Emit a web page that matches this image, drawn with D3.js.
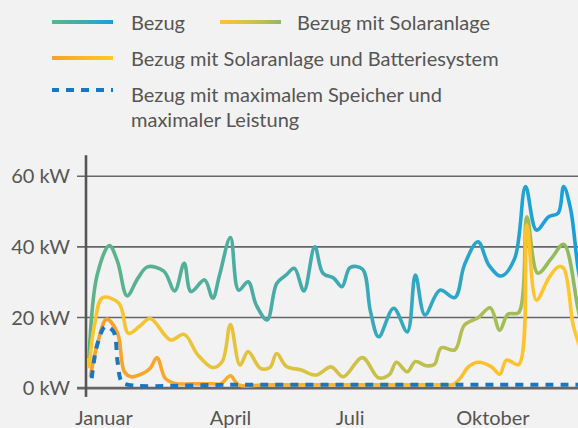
<!DOCTYPE html>
<html>
<head>
<meta charset="utf-8">
<script src="https://cdn.jsdelivr.net/npm/d3@7"></script>
<style>
  html, body { margin: 0; padding: 0; background: #f2f2f2; }
  svg { display: block; font-family: Lato, "Open Sans", sans-serif; }
  text { fill: #555; }
</style>
</head>
<body>
<div id="chart"></div>
<script>
// x values are days of the year, y values in kW
const bezug = [[0, 8.4], [6, 31.9], [15, 40.2], [21, 35.7], [28, 26], [36, 31], [43, 34.2], [55, 33], [63, 27.4],
  [70, 35.2], [75, 27.2], [85, 30.5], [91, 25.3], [96, 31.9], [104, 42.5], [110, 27.6], [117, 30], [123, 23.4],
  [131, 19.2], [138, 29.5], [145, 31.9], [151, 33.8], [158, 27.4], [166, 39.9], [172, 32.4], [180, 31], [186, 28.6],
  [192, 34], [201, 33.6], [207, 21.5], [213, 14.4], [224, 22.5], [234, 15.8], [240, 31.9], [247, 20.6], [258, 27.6],
  [269, 25.5], [276, 34.7], [286, 41.3], [294, 34.7], [303, 31.6], [313, 36.6], [321, 56.9], [329, 44.6],
  [338, 48.4], [345, 49.4], [349, 56.9], [354, 50.8], [360, 32.8], [365, 24]];

const solar = [[0, 5.5], [4, 17.7], [10, 25.5], [22, 23.9], [29, 15.4], [37, 17.3], [45, 19.6], [60, 13.5], [70, 15.1],
  [80, 9.3], [91, 5.7], [98, 7.4], [104, 17.9], [111, 6.4], [117, 10.2], [126, 5.5], [133, 5.7], [138, 9.7],
  [145, 6.1], [156, 5], [167, 3.6], [178, 5.9], [187, 3.1], [201, 8.5], [213, 2.8], [221, 3.8], [226, 7.2],
  [234, 4.5], [240, 7.4], [248, 6.2], [254, 6.6], [259, 11.3], [269, 10.7], [276, 17.7], [286, 19.8], [295, 22.6],
  [302, 16.3], [308, 20.8], [316, 21.3], [322, 48.4], [330, 32.4], [340, 36.6], [349, 40.6], [360, 21.5], [365, 14]];

const batterie = [[1, 3.1], [6, 12.1], [13, 19.4], [21, 15.4], [26, 4.5], [31, 3.1], [40, 4.1], [45, 5.5], [50, 8.5],
  [56, 2.7], [63, 1.2], [75, 1.1], [90, 1.1], [97, 1.1], [104, 3.4], [110, 0.8], [130, 0.8], [200, 0.8], [260, 0.8],
  [268, 0.9], [273, 2.7], [279, 5.9], [286, 7.2], [296, 5.9], [302, 3.8], [307, 7.8], [316, 6.6], [322, 46],
  [329, 24.8], [338, 31], [345, 34.2], [349, 33.8], [356, 17.7], [360, 12.6], [365, 8]];

const speicher = [[2, 2.7], [6, 12.1], [12, 17.3], [18, 15.9], [21, 7.4], [24, 1.7], [29, 0.8], [100, 0.8],
  [200, 0.8], [300, 0.8], [365, 0.8]];

const monate = ['Januar', 'April', 'Juli', 'Oktober'];
const monatTage = [11, 104, 192, 297];
const yTicks = [0, 20, 40, 60];

const width = 578, height = 428;
const svg = d3.select('#chart').append('svg')
  .attr('width', width)
  .attr('height', height);

const x = d3.scaleLinear().domain([0, 365]).range([89, 585.4]);
const y = d3.scaleLinear().domain([0, 60]).range([387.7, 175.7]);

// gradients
const defs = svg.append('defs');
function gradient(id, stops, x1, x2, units) {
  const g = defs.append('linearGradient')
    .attr('id', id)
    .attr('gradientUnits', units)
    .attr('x1', x1).attr('x2', x2).attr('y1', 0).attr('y2', 0);
  stops.forEach(s => g.append('stop').attr('offset', s[0]).attr('stop-color', s[1]));
}
const bezugStops = [[0, '#5db48a'], [0.4, '#47aba8'], [0.7, '#30a7c6'], [1, '#17a0dc']];
const solarStops = [[0, '#fcc52c'], [0.45, '#d9c244'], [0.7, '#bdbf4f'], [1, '#8cba5f']];
const battStops = [[0, '#f8a12a'], [0.5, '#fbb52c'], [1, '#ffc72a']];
gradient('gBezug', bezugStops, 89, 578, 'userSpaceOnUse');
gradient('gSolar', solarStops, 89, 578, 'userSpaceOnUse');
gradient('gBatt', battStops, 89, 578, 'userSpaceOnUse');
gradient('lgBezug', bezugStops, 0, 1, 'objectBoundingBox');
gradient('lgSolar', solarStops, 0, 1, 'objectBoundingBox');
gradient('lgBatt', battStops, 0, 1, 'objectBoundingBox');

// grid + y axis
const yAxis = d3.axisLeft(y)
  .tickValues(yTicks)
  .tickSize(-(width - 77))
  .tickFormat(d => d + ' kW');

const ga = svg.append('g')
  .attr('transform', 'translate(77,0)')
  .call(yAxis);
ga.select('.domain').remove();
ga.selectAll('.tick line')
  .attr('stroke', '#666')
  .attr('stroke-width', d => d === 0 ? 2.8 : 1.6);
ga.selectAll('.tick text')
  .attr('x', -7)
  .attr('dy', '0.36em')
  .style('font-size', '20px')
  .style('font-family', 'Lato, sans-serif')
  .attr('fill', '#555');

svg.append('line')
  .attr('x1', 86).attr('x2', 86)
  .attr('y1', y(65.8)).attr('y2', y(-2.6))
  .attr('stroke', '#555')
  .attr('stroke-width', 2.6);

// x labels
svg.append('g').selectAll('text')
  .data(monate)
  .enter().append('text')
  .attr('x', (d, i) => x(monatTage[i]))
  .attr('y', 425)
  .attr('text-anchor', 'middle')
  .style('font-size', '20px')
  .text(d => d);

// lines
const plot = svg.append('g');
const line = d3.line()
  .x(d => x(d[0]))
  .y(d => y(d[1]))
  .curve(d3.curveCatmullRom.alpha(0.5));

plot.append('path').datum(bezug)
  .attr('d', line).attr('fill', 'none')
  .attr('stroke', 'url(#gBezug)').attr('stroke-width', 3.6)
  .attr('stroke-linejoin', 'round');
plot.append('path').datum(solar)
  .attr('d', line).attr('fill', 'none')
  .attr('stroke', 'url(#gSolar)').attr('stroke-width', 3.6)
  .attr('stroke-linejoin', 'round');
plot.append('path').datum(batterie)
  .attr('d', line).attr('fill', 'none')
  .attr('stroke', 'url(#gBatt)').attr('stroke-width', 3.6)
  .attr('stroke-linejoin', 'round');
plot.append('path').datum(speicher)
  .attr('d', line).attr('fill', 'none')
  .attr('stroke', '#1b76c0').attr('stroke-width', 4)
  .attr('stroke-dasharray', '8,7');

// legend
const legend = svg.append('g');
const items = [
  { label: ['Bezug'], fill: 'url(#lgBezug)', x: 52, y: 22, tx: 131 },
  { label: ['Bezug mit Solaranlage'], fill: 'url(#lgSolar)', x: 220, y: 22, tx: 297 },
  { label: ['Bezug mit Solaranlage und Batteriesystem'], fill: 'url(#lgBatt)', x: 52, y: 58, tx: 131 },
  { label: ['Bezug mit maximalem Speicher und', 'maximaler Leistung'], fill: '#1b76c0', x: 52, y: 90, tx: 131, dash: true }
];

items.forEach(it => {
  if (it.dash) {
    legend.append('line')
      .attr('x1', it.x).attr('x2', it.x + 61)
      .attr('y1', it.y).attr('y2', it.y)
      .attr('stroke', it.fill)
      .attr('stroke-width', 4)
      .attr('stroke-dasharray', '8,7')
      .attr('stroke-dashoffset', 1);
  } else {
    legend.append('rect')
      .attr('x', it.x).attr('y', it.y - 2)
      .attr('width', 61).attr('height', 4)
      .attr('fill', it.fill);
  }
  it.label.forEach((t, i) => {
    legend.append('text')
      .attr('x', it.tx)
      .attr('y', it.y + 8 + (it.dash ? 4 : 0) + i * 25)
      .style('font-size', '20px')
      .text(t);
  });
});
</script>
</body>
</html>
